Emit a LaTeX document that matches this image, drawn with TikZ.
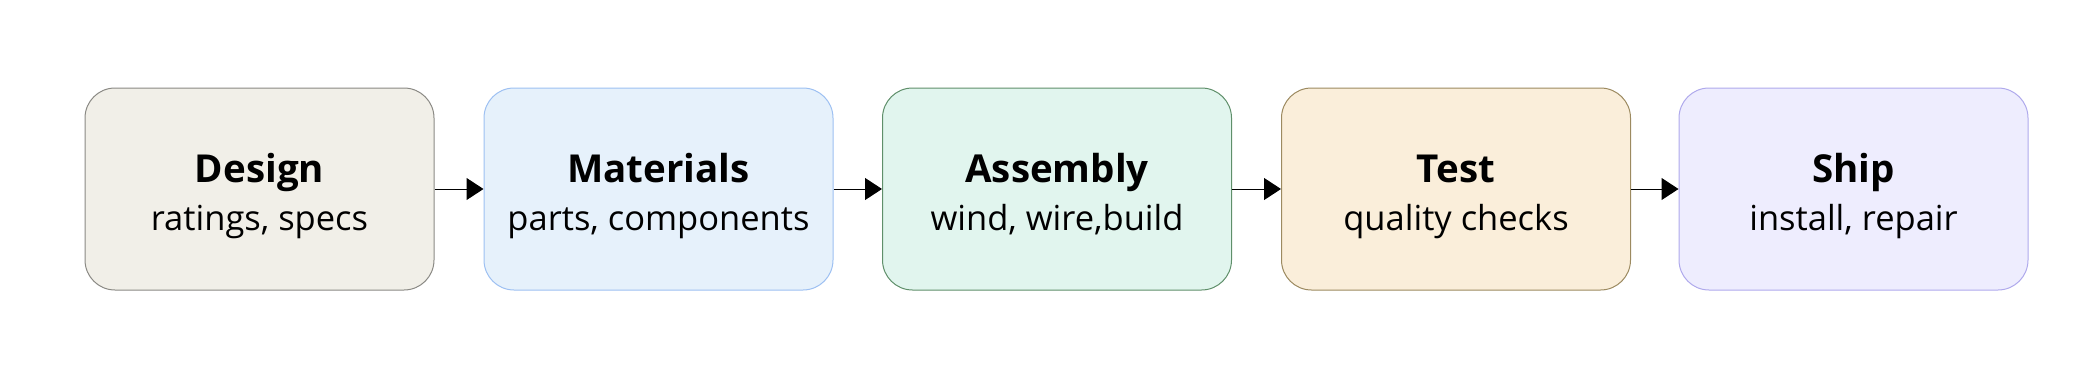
\documentclass[tikz,border=0pt]{standalone}
\usepackage{fontspec}
\setmainfont{Open Sans}
\usetikzlibrary{arrows.meta}
\definecolor{fillA}{HTML}{F1EFE8}\definecolor{drawA}{HTML}{8A8984}
\definecolor{fillB}{HTML}{E6F1FB}\definecolor{drawB}{HTML}{9DC0F2}
\definecolor{fillC}{HTML}{E1F5EE}\definecolor{drawC}{HTML}{5F8F6A}
\definecolor{fillD}{HTML}{FAEEDA}\definecolor{drawD}{HTML}{9C8A60}
\definecolor{fillE}{HTML}{EEEDFE}\definecolor{drawE}{HTML}{AFA9EC}
\tikzset{
  stagebox/.style={draw=#1, line width=1pt, rounded corners=30pt, minimum width=349pt, minimum height=202pt, inner sep=0pt},
  ttl/.style={anchor=base, font=\fontsize{38.5}{46}\selectfont\bfseries, inner sep=0pt},
  sub/.style={anchor=base, font=\fontsize{34.5}{40}\selectfont, inner sep=0pt},
  flow/.style={line width=1pt, -{Triangle[length=17pt,width=22pt]}}
}
\begin{document}
\begin{tikzpicture}[x=1pt,y=-1pt]
\useasboundingbox (0,0) rectangle (2086,380);
\node[stagebox=drawA, fill=fillA] (b1) at (259.5,189) {};
\node[stagebox=drawB, fill=fillB] (b2) at (658.5,189) {};
\node[stagebox=drawC, fill=fillC] (b3) at (1057,189) {};
\node[stagebox=drawD, fill=fillD] (b4) at (1456,189) {};
\node[stagebox=drawE, fill=fillE] (b5) at (1853.5,189) {};
\node[ttl] (t1) at (259.5,182) {Design};
\node[sub] (s1) at (259.5,230) {ratings, specs};
\node[ttl] (t2) at (658.5,182) {Materials};
\node[sub] (s2) at (658.5,230) {parts, components};
\node[ttl] (t3) at (1057,182) {Assembly};
\node[sub] (s3) at (1057,230) {wind, wire,build};
\node[ttl] (t4) at (1456,182) {Test};
\node[sub] (s4) at (1456,230) {quality checks};
\node[ttl] (t5) at (1853.5,182) {Ship};
\node[sub] (s5) at (1853.5,230) {install, repair};
\draw[flow] (b1) -- (b2);
\draw[flow] (b2) -- (b3);
\draw[flow] (b3) -- (b4);
\draw[flow] (b4) -- (b5);
\end{tikzpicture}
\end{document}
